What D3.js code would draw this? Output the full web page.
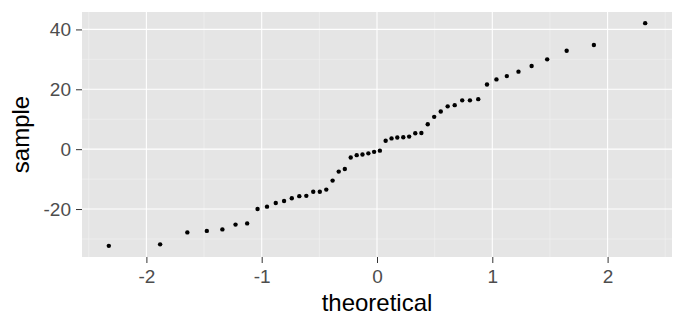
<!DOCTYPE html>
<html>
<head>
<meta charset="utf-8">
<script src="https://cdn.jsdelivr.net/npm/d3@7"></script>
<style>
  body { margin: 0; background: #fff; }
  svg { display: block; font-family: "Liberation Sans", Arial, Helvetica, sans-serif; }
</style>
</head>
<body>
<div id="chart"></div>
<script>
// theoretical normal quantiles (n = 50)
var theoretical = [
  -2.326, -1.881, -1.645, -1.476, -1.341, -1.227, -1.126, -1.036, -0.954, -0.878,
  -0.806, -0.739, -0.674, -0.613, -0.553, -0.496, -0.440, -0.385, -0.332, -0.279,
  -0.228, -0.176, -0.126, -0.075, -0.025, 0.025, 0.075, 0.126, 0.176, 0.228,
  0.279, 0.332, 0.385, 0.440, 0.496, 0.553, 0.613, 0.674, 0.739, 0.806,
  0.878, 0.954, 1.036, 1.126, 1.227, 1.341, 1.476, 1.645, 1.881, 2.326
];
// sorted sample values
var sample = [
  -32.3, -31.8, -27.8, -27.3, -26.8, -25.2, -24.8, -20.0, -19.2, -18.0,
  -17.3, -16.4, -15.7, -15.6, -14.2, -14.2, -13.5, -10.5, -7.5, -6.6,
  -2.8, -2.0, -1.8, -1.4, -0.9, -0.5, 2.8, 3.6, 3.9, 4.0,
  4.2, 5.3, 5.4, 8.3, 10.8, 12.6, 14.3, 14.7, 16.3, 16.3,
  16.7, 21.6, 23.3, 24.4, 25.9, 27.8, 30.0, 32.9, 34.8, 42.1
];
var xTicks = [-2, -1, 0, 1, 2];
var yTicks = [-20, 0, 20, 40];
var xMinor = [-2.5, -1.5, -0.5, 0.5, 1.5, 2.5];
var yMinor = [-30, -10, 10, 30];

var width = 684, height = 324;
var margin = {top: 12, right: 12, bottom: 67, left: 82};

var svg = d3.select("#chart").append("svg")
  .attr("width", width)
  .attr("height", height);

// ggplot-style 5% expansion
function expand(ext) {
  var pad = (ext[1] - ext[0]) * 0.05;
  return [ext[0] - pad, ext[1] + pad];
}

var x = d3.scaleLinear()
  .domain(expand(d3.extent(theoretical)))
  .range([margin.left, width - margin.right]);
var y = d3.scaleLinear()
  .domain(expand(d3.extent(sample)))
  .range([height - margin.bottom, margin.top]);

var g = svg.append("g");

g.append("rect")
  .attr("x", margin.left)
  .attr("y", margin.top)
  .attr("width", width - margin.left - margin.right)
  .attr("height", height - margin.top - margin.bottom)
  .attr("fill", "#e5e5e5");

// minor grid
g.selectAll(".xminor").data(xMinor).enter().append("line")
  .attr("x1", function(d) { return x(d); }).attr("x2", function(d) { return x(d); })
  .attr("y1", margin.top).attr("y2", height - margin.bottom)
  .attr("stroke", "#f2f2f2").attr("stroke-width", 0.6);
g.selectAll(".yminor").data(yMinor).enter().append("line")
  .attr("y1", function(d) { return y(d); }).attr("y2", function(d) { return y(d); })
  .attr("x1", margin.left).attr("x2", width - margin.right)
  .attr("stroke", "#f2f2f2").attr("stroke-width", 0.6);

// major grid
g.selectAll(".xmajor").data(xTicks).enter().append("line")
  .attr("x1", function(d) { return x(d); }).attr("x2", function(d) { return x(d); })
  .attr("y1", margin.top).attr("y2", height - margin.bottom)
  .attr("stroke", "#ffffff").attr("stroke-width", 1.1);
g.selectAll(".ymajor").data(yTicks).enter().append("line")
  .attr("y1", function(d) { return y(d); }).attr("y2", function(d) { return y(d); })
  .attr("x1", margin.left).attr("x2", width - margin.right)
  .attr("stroke", "#ffffff").attr("stroke-width", 1.1);

// points
g.selectAll(".pt").data(sample).enter().append("circle")
  .attr("cx", function(d, i) { return x(theoretical[i]); })
  .attr("cy", function(d) { return y(d); })
  .attr("r", 2.2)
  .attr("fill", "#000");

// axes
var xAxis = svg.append("g")
  .attr("transform", "translate(0," + (height - margin.bottom) + ")")
  .call(d3.axisBottom(x).tickValues(xTicks).tickSize(6).tickPadding(7));
var yAxis = svg.append("g")
  .attr("transform", "translate(" + margin.left + ",0)")
  .call(d3.axisLeft(y).tickValues(yTicks).tickSize(6).tickPadding(5));

[xAxis, yAxis].forEach(function(a) {
  a.select(".domain").remove();
  a.selectAll(".tick line").attr("stroke", "#333333").attr("stroke-width", 1);
  a.selectAll(".tick text")
    .attr("fill", "#4d4d4d")
    .style("font-size", "19px")
    .style("font-family", "Liberation Sans, Arial, sans-serif")
    // ggplot uses a plain hyphen for negatives
    .text(function(d) { return String(d); });
});

// axis titles
svg.append("text")
  .attr("x", (margin.left + width - margin.right) / 2)
  .attr("y", 311)
  .attr("text-anchor", "middle")
  .style("font-size", "24px")
  .attr("fill", "#000")
  .text("theoretical");

svg.append("text")
  .attr("transform", "translate(29," + (margin.top + height - margin.bottom) / 2 + ") rotate(-90)")
  .attr("text-anchor", "middle")
  .style("font-size", "24px")
  .attr("fill", "#000")
  .text("sample");
</script>
</body>
</html>
